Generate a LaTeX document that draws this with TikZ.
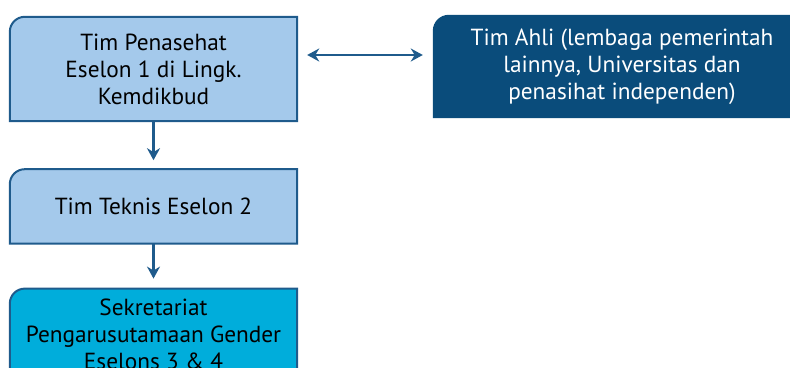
\documentclass[tikz,border=0pt]{standalone}
\usepackage{fontspec}
\setmainfont{PT Sans}
\usetikzlibrary{positioning,arrows.meta,backgrounds}
\definecolor{boxlight}{HTML}{A4C9EB}
\definecolor{boxcyan}{HTML}{00ADDB}
\definecolor{boxdark}{HTML}{0A4C7B}
\definecolor{lineblue}{HTML}{1F5B8C}
% box with only the top left corner rounded, drawn behind a named node
\newcommand{\tabbox}[3]{%
  \filldraw[fill=#2, draw=#3, line width=2pt] (#1.south west) -- ([yshift=-15pt]#1.north west)
    arc[start angle=180, end angle=90, radius=15pt] -- (#1.north east) -- (#1.south east) -- cycle;}

\begin{document}
\begin{tikzpicture}[x=1pt, y=1pt,
  unit/.style={rectangle, minimum width=287pt, inner sep=0pt, align=center, font=\fontsize{23.3}{27}\selectfont},
  flow/.style={-{Stealth[length=12pt, width=13pt]}, line width=2.5pt, draw=lineblue}]
\clip (0,0) rectangle (790,367);
\node[unit, minimum height=104pt] (penasehat) at (153.5,298) {Tim Penasehat\\Eselon 1 di Lingk.\\Kemdikbud};
\node[unit, minimum height=74pt, below=48pt of penasehat] (teknis) {Tim Teknis Eselon 2};
\node[unit, minimum height=92pt, below=45pt of teknis] (sekretariat) {Sekretariat\\Pengarusutamaan Gender\\Eselons 3 \& 4};
\node[unit, minimum width=376pt, minimum height=101pt, text=white] (ahli) at (622,300.5) {Tim Ahli (lembaga pemerintah\\lainnya, Universitas dan\\penasihat independen)};

\begin{pgfonlayer}{background}
\tabbox{penasehat}{boxlight}{lineblue}
\tabbox{teknis}{boxlight}{lineblue}
\tabbox{sekretariat}{boxcyan}{lineblue}
\tabbox{ahli}{boxdark}{boxdark}
\end{pgfonlayer}

\draw[flow, shorten >=9pt] (penasehat) -- (teknis);
\draw[flow, shorten >=10pt] (teknis) -- (sekretariat);
\draw[flow, {Stealth[length=12pt, width=13pt]}-{Stealth[length=12pt, width=13pt]}, shorten <=10pt, shorten >=11pt]
  ([yshift=14pt]penasehat.east) -- ([yshift=14pt]penasehat.east -| ahli.west);
\end{tikzpicture}
\end{document}
